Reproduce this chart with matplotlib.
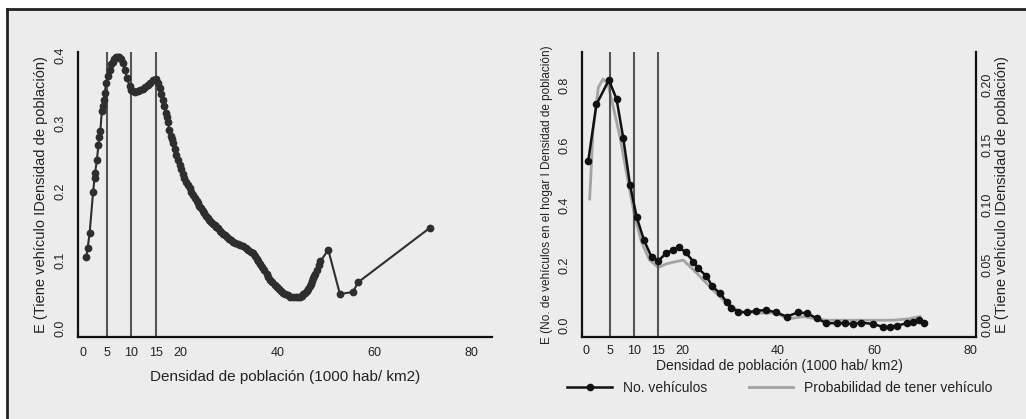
import matplotlib
matplotlib.use("Agg")
import matplotlib.pyplot as plt
from matplotlib.lines import Line2D
from matplotlib.patches import Rectangle

plt.rcParams['font.family'] = ['Liberation Sans', 'DejaVu Sans']

# ---------------- data ----------------
x_ticks = [0, 5, 10, 15, 20, 40, 60, 80]
vlines = [5, 10, 15]

# Left panel: E(Tiene vehiculo | Densidad de poblacion)
left_x = [0.7, 1.0, 1.4, 2.1, 2.4, 2.5, 2.9, 3.2, 3.4, 3.6, 3.9, 4.1, 4.3, 4.5, 4.8,
          5.1, 5.5, 5.8, 6.1, 6.4, 6.9, 7.2, 7.5, 7.9, 8.2, 8.6, 9.1, 9.6, 10.0, 10.3,
          10.8, 11.3, 11.8, 12.3, 12.8, 13.4, 13.9, 14.4, 15.1, 15.4, 15.8, 16.1, 16.5,
          16.8, 17.1, 17.3, 17.5, 17.8, 18.1, 18.3,
          18.5, 18.9, 19.2, 19.5, 19.9, 20.2, 20.6, 20.9, 21.3, 21.6, 22.0, 22.3, 22.7,
          23.0, 23.4, 23.7, 24.0, 24.3, 24.7, 25.0, 25.4, 25.7, 26.0, 26.4, 26.8, 27.1,
          27.5, 27.8, 28.2, 28.5, 28.9, 29.2, 29.6, 30.0, 30.4, 30.9, 31.4, 31.9, 32.4,
          33.0, 33.5, 34.0, 34.5, 35.0, 35.5, 35.8, 36.1, 36.5, 36.9, 37.3, 37.8, 38.2,
          38.6, 39.0, 39.5, 39.9, 40.3, 40.8, 41.2, 41.7, 42.2, 42.7, 43.3, 43.8, 44.2,
          44.6, 45.0, 45.4, 45.7, 46.1, 46.4, 46.7, 46.9, 47.2, 47.4, 47.6, 47.8, 48.1,
          48.5, 48.9, 50.5, 52.9, 55.6, 56.6, 71.4]
left_y = [0.104, 0.118, 0.140, 0.199, 0.220, 0.227, 0.247, 0.269, 0.281, 0.289, 0.318,
          0.326, 0.335, 0.345, 0.360, 0.370, 0.379, 0.387, 0.391, 0.394, 0.398, 0.398,
          0.397, 0.394, 0.389, 0.379, 0.367, 0.355, 0.350, 0.348, 0.347, 0.348, 0.349,
          0.351, 0.354, 0.357, 0.360, 0.364, 0.365, 0.360, 0.352, 0.344, 0.335, 0.326,
          0.316, 0.310, 0.303, 0.291, 0.282, 0.277,
          0.272, 0.262, 0.254, 0.247, 0.239, 0.233, 0.226, 0.220, 0.215, 0.210, 0.205,
          0.200, 0.195, 0.191, 0.187, 0.183, 0.179, 0.176, 0.172, 0.169, 0.165, 0.162,
          0.159, 0.156, 0.153, 0.151, 0.149, 0.147, 0.143, 0.141, 0.138, 0.136, 0.133,
          0.131, 0.129, 0.127, 0.125, 0.124, 0.122, 0.120, 0.117, 0.115, 0.112, 0.110,
          0.106, 0.102, 0.098, 0.094, 0.089, 0.085, 0.080, 0.075, 0.071, 0.067, 0.063,
          0.060, 0.057, 0.054, 0.052, 0.050, 0.048, 0.046, 0.045, 0.045, 0.045, 0.046,
          0.047, 0.050, 0.052, 0.055, 0.058, 0.062, 0.065, 0.069, 0.073, 0.076, 0.079,
          0.085, 0.092, 0.098, 0.115, 0.050, 0.053, 0.067, 0.147]

# Right panel: E(No. de vehiculos en el hogar | Densidad de poblacion)
veh_x = [0.5, 2.2, 4.8, 6.4, 7.8, 9.2, 10.6, 12.1, 13.7, 15.1, 16.7, 18.1, 19.4, 20.8,
         22.4, 23.4, 25.1, 26.3, 27.9, 29.4, 30.3, 31.7, 33.5, 35.4, 37.5, 39.7, 41.8,
         44.2, 46.1, 48.1, 50.1, 52.4, 54.0, 55.7, 57.4, 59.9, 61.8, 63.3, 64.9, 66.8,
         68.1, 69.4, 70.5]
veh_y = [0.547, 0.735, 0.817, 0.753, 0.622, 0.467, 0.359, 0.283, 0.226, 0.214, 0.239,
         0.250, 0.259, 0.242, 0.211, 0.189, 0.163, 0.130, 0.106, 0.076, 0.056, 0.044,
         0.042, 0.047, 0.050, 0.042, 0.028, 0.042, 0.039, 0.022, 0.006, 0.006, 0.006,
         0.003, 0.008, 0.003, -0.006, -0.006, -0.002, 0.006, 0.011, 0.017, 0.008]

# Right panel (right axis): probabilidad de tener vehiculo
prob_x = [0.8, 1.5, 2.6, 3.6, 4.6, 5.7, 7.1, 8.5, 10.2, 11.6, 13.3, 15.1, 16.8, 18.9,
          20.3, 22.4, 25.8, 29.3, 32.1, 36.3, 39.7, 42.1, 45.3, 48.1, 50.1, 57.0, 64.0,
          67.0, 69.6]
prob_y = [0.105, 0.162, 0.198, 0.205, 0.201, 0.182, 0.157, 0.126, 0.090, 0.069, 0.054,
          0.048, 0.051, 0.053, 0.054, 0.046, 0.032, 0.018, 0.011, 0.010, 0.010, 0.005,
          0.007, 0.005, 0.004, 0.004, 0.004, 0.005, 0.007]

xlabel = "Densidad de población (1000 hab/ km2)"
ylabel_left = "E (Tiene vehículo IDensidad de población)"
ylabel_right1 = "E (No. de vehículos en el hogar I Densidad de población)"
ylabel_right2 = "E (Tiene vehículo IDensidad de población)"
legend_labels = ["No. vehículos", "Probabilidad de tener vehículo"]

# ---------------- figure ----------------
W, H = 1026, 419
fig = plt.figure(figsize=(W / 100, H / 100), dpi=100, facecolor='white')

bg = '#ececec'
fig.patches.append(Rectangle((7 / W, 0), 1 - 7 / W, 1 - 9 / H, transform=fig.transFigure,
                             facecolor=bg, edgecolor='none', zorder=-10))
fig.lines.append(Line2D([7 / W, 1], [1 - 9 / H, 1 - 9 / H], transform=fig.transFigure,
                        color='#222222', lw=2))
fig.lines.append(Line2D([7 / W, 7 / W], [0, 1 - 9 / H], transform=fig.transFigure,
                        color='#222222', lw=2))

txt = '#222222'
tick_fs = 9


def px_axes(l, r, t, b):
    return [l / W, 1 - b / H, (r - l) / W, (b - t) / H]


def style(ax):
    ax.set_facecolor('none')
    for s in ['top', 'right']:
        ax.spines[s].set_visible(False)
    for s in ['left', 'bottom']:
        ax.spines[s].set_linewidth(1.6)
        ax.spines[s].set_color('#111111')
    ax.tick_params(length=0, labelsize=tick_fs, colors=txt)
    ax.set_xticks(x_ticks)
    ax.set_xticklabels([str(t) for t in x_ticks])
    for lab in ax.get_yticklabels():
        lab.set_rotation(90)
        lab.set_va('center')


# Left panel
ax1 = fig.add_axes(px_axes(78, 492, 52, 337))
for v in vlines:
    ax1.axvline(v, color='#555555', lw=1.5, zorder=1)
ax1.plot(left_x, left_y, color='#2e2e2e', lw=1.5, marker='o', ms=5.6,
         markeredgewidth=0, zorder=3)
ax1.set_xlim(-1.0, 84.2)
ax1.set_ylim(-0.013, 0.405)
ax1.set_yticks([0.0, 0.1, 0.2, 0.3, 0.4])
ax1.set_yticklabels(['0.0', '0.1', '0.2', '0.3', '0.4'])
style(ax1)
ax1.tick_params(axis='x', pad=7)
ax1.tick_params(axis='y', pad=8)
ax1.set_xlabel(xlabel, fontsize=11, color=txt, labelpad=8)
ax1.set_ylabel(ylabel_left, fontsize=10.5, color=txt, labelpad=5)

# Right panel
ax2 = fig.add_axes(px_axes(582, 976, 52, 337))
for v in vlines:
    ax2.axvline(v, color='#555555', lw=1.5, zorder=1)
ax2.set_xlim(-0.8, 81.25)
ax2.set_ylim(-0.04, 0.91)
ax2.set_yticks([0.0, 0.2, 0.4, 0.6, 0.8])
ax2.set_yticklabels(['0.0', '0.2', '0.4', '0.6', '0.8'])
style(ax2)
ax2.tick_params(axis='x', pad=6)
ax2.tick_params(axis='y', pad=8)
ax2.set_xlabel(xlabel, fontsize=10, color=txt, labelpad=1)
ax2.set_ylabel(ylabel_right1, fontsize=8.5, color=txt, labelpad=4)

ax3 = ax2.twinx()
ax3.set_facecolor('none')
for s in ['top', 'left', 'bottom']:
    ax3.spines[s].set_visible(False)
ax3.spines['right'].set_linewidth(1.6)
ax3.spines['right'].set_color('#111111')
ax3.set_ylim(-0.01, 0.2275)
ax3.set_yticks([0.00, 0.05, 0.10, 0.15, 0.20])
ax3.set_yticklabels(['0.00', '0.05', '0.10', '0.15', '0.20'])
ax3.tick_params(length=0, labelsize=tick_fs, colors=txt, pad=4)
for lab in ax3.get_yticklabels():
    lab.set_rotation(90)
    lab.set_va('center')
ax3.set_ylabel(ylabel_right2, fontsize=10.5, color=txt, labelpad=1)

l2, = ax3.plot(prob_x, prob_y, color='#a3a3a3', lw=2.0, zorder=2)
l1, = ax2.plot(veh_x, veh_y, color='#111111', lw=1.8, marker='o', ms=5.5,
               markeredgewidth=0, zorder=3)
ax2.set_zorder(ax3.get_zorder() + 1)

fig.legend([l1, l2], legend_labels, loc='center', bbox_to_anchor=(780 / W, 1 - 388 / H),
           ncol=2, frameon=False, fontsize=10, handlelength=3.2, columnspacing=3.0,
           labelcolor=txt)

fig.savefig('out.png', dpi=100, facecolor=fig.get_facecolor())
